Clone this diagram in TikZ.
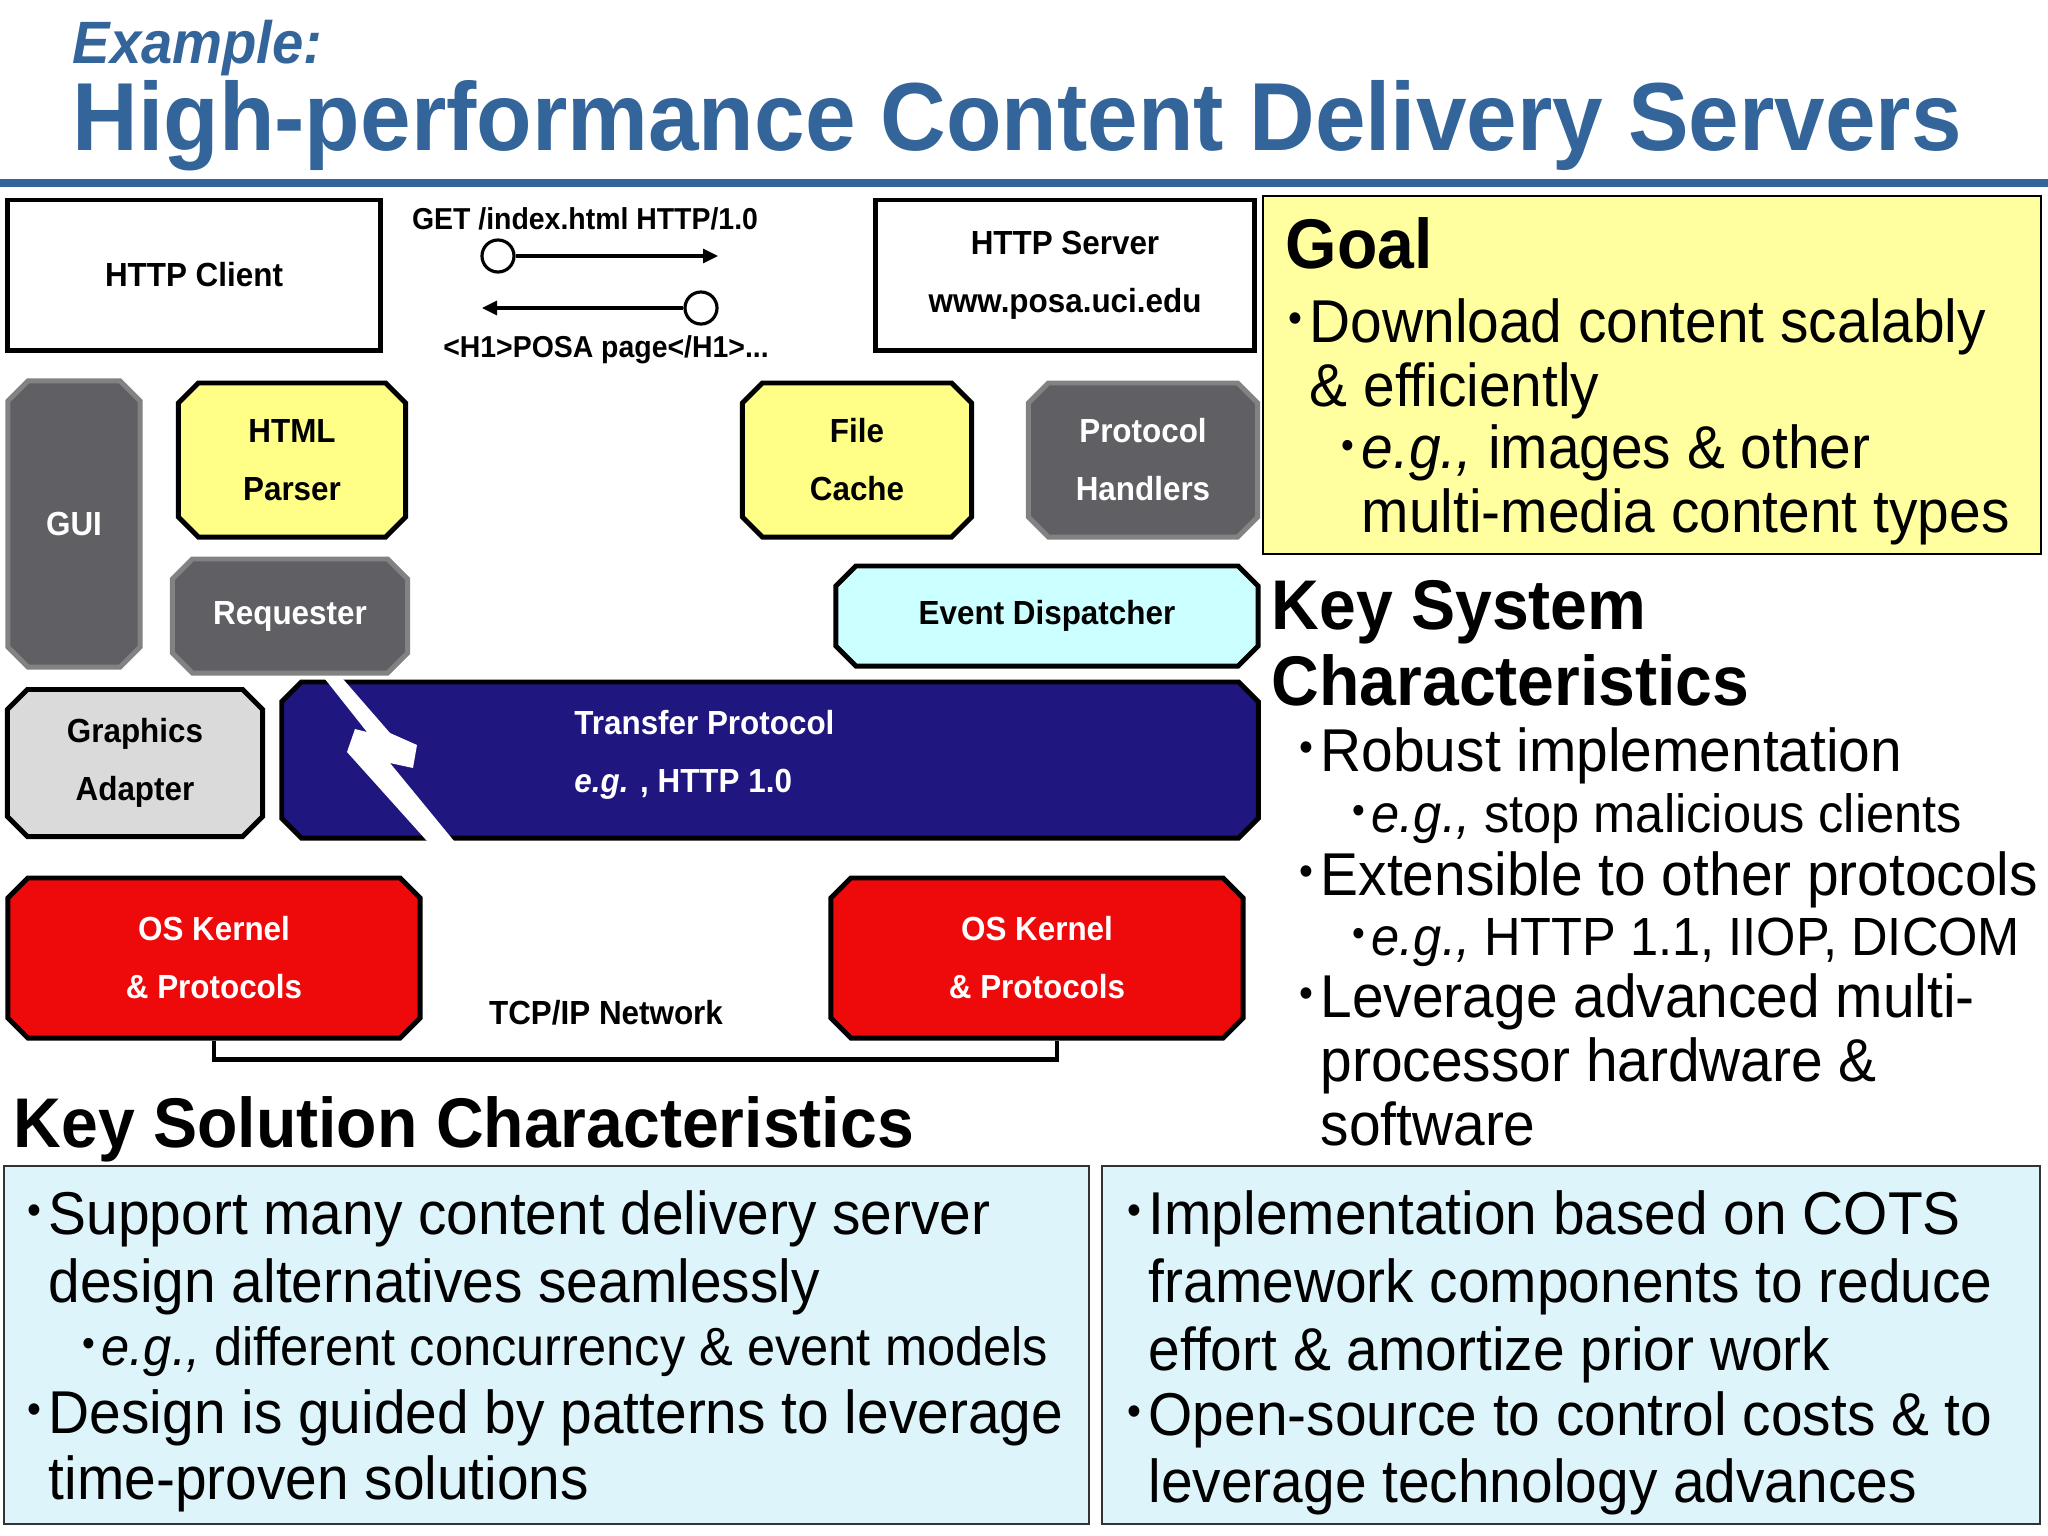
\documentclass[tikz,border=0pt]{standalone}
\usepackage{fontspec}
\setmainfont[FakeStretch=0.94]{Liberation Sans}
\usetikzlibrary{shapes.misc,arrows.meta}

\definecolor{titleblue}{RGB}{52,101,154}
\definecolor{parseryellow}{RGB}{255,255,136}
\definecolor{goalyellow}{RGB}{255,255,160}
\definecolor{compgray}{RGB}{96,95,99}
\definecolor{compedge}{RGB}{130,130,130}
\definecolor{dispcyan}{RGB}{204,255,255}
\definecolor{adaptgray}{RGB}{218,218,218}
\definecolor{protonavy}{RGB}{32,22,128}
\definecolor{kernelred}{RGB}{238,10,10}
\definecolor{solcyan}{RGB}{221,244,251}

\newcommand{\dotitem}{\makebox[0pt][r]{\raisebox{0.15em}{\fontsize{12}{12}\selectfont •}\hspace{0.12em}}}
\newcommand{\subdot}{\makebox[0pt][r]{\raisebox{0.15em}{\fontsize{11}{11}\selectfont •}\hspace{0.12em}}}

\tikzset{
  boxtext/.style={font=\fontsize{9.5}{16.5}\selectfont\bfseries, align=center},
  plainbox/.style={rectangle, draw=black, line width=1.4pt, fill=white, boxtext},
  chambox/.style={chamfered rectangle, chamfered rectangle xsep=0.12cm,
    chamfered rectangle ysep=0.08cm, line width=1.4pt, boxtext},
  yellowbox/.style={chambox, draw=black, fill=parseryellow},
  graybox/.style={chambox, draw=compedge, fill=compgray, text=white},
  wire/.style={line width=1.4pt},
  msg/.style={line width=0.9pt, -{Triangle[length=0.15cm,width=0.14cm]}},
  headtext/.style={anchor=base west, inner sep=0pt, font=\fontsize{20}{24}\selectfont\bfseries},
  bodyline/.style={anchor=base west, inner sep=0pt, font=\fontsize{17.2}{20}\selectfont},
  subline/.style={anchor=base west, inner sep=0pt, font=\fontsize{15.3}{18}\selectfont}
}

\begin{document}
\begin{tikzpicture}[x=0.01cm, y=-0.01cm]
  \useasboundingbox (0,0) rectangle (2048,1536);

  % Title
  \node[anchor=base west, inner sep=0pt, text=titleblue,
    font=\fontsize{17}{20}\selectfont\bfseries\itshape] (example) at (72,63) {Example:};
  \node[anchor=base west, inner sep=0pt, text=titleblue,
    font=\fontsize{27.5}{32}\selectfont\bfseries] (title) at (72,150) {High-performance Content Delivery Servers};
  \fill[titleblue] (0,179) rectangle (2048,187);

  % HTTP client and server
  \node[plainbox, minimum width=3.73cm, minimum height=1.50cm] (client) at (194,275) {HTTP Client};
  \node[plainbox, minimum width=3.78cm, minimum height=1.50cm] (server) at (1065,275) {HTTP Server\\www.posa.uci.edu};

  % Request and reply
  \node[boxtext, font=\fontsize{8.6}{10}\selectfont\bfseries] (request) at (585,219) {GET /index.html HTTP/1.0};
  \node[circle, draw, line width=0.9pt, fill=white, minimum size=0.32cm, inner sep=0pt] (reqdot) at (498,256) {};
  \coordinate (reqend) at (718,256);
  \draw[msg] (reqdot) -- (reqend);
  \node[circle, draw, line width=0.9pt, fill=white, minimum size=0.32cm, inner sep=0pt] (repdot) at (701,308) {};
  \coordinate (repend) at (482,308);
  \draw[msg] (repdot) -- (repend);
  \node[boxtext, font=\fontsize{8.6}{10}\selectfont\bfseries] (reply) at (606,350) {<H1>POSA page</H1>...};

  % Client side components
  \node[graybox, minimum width=1.32cm, minimum height=2.86cm] (gui) at (74,524) {GUI};
  \node[yellowbox, minimum width=2.27cm, minimum height=1.54cm] (parser) at (292,460) {HTML\\Parser};
  \node[graybox, minimum width=2.35cm, minimum height=1.14cm] (requester) at (290,616) {Requester};
  \node[chambox, draw=black, fill=adaptgray, minimum width=2.55cm, minimum height=1.47cm] (adapter) at (135,763) {Graphics\\Adapter};

  % Server side components
  \node[yellowbox, minimum width=2.29cm, minimum height=1.54cm] (cache) at (857,460) {File\\Cache};
  \node[graybox, minimum width=2.29cm, minimum height=1.54cm] (handlers) at (1143,460) {Protocol\\Handlers};
  \node[chambox, draw=black, fill=dispcyan, minimum width=4.22cm, minimum height=1.00cm] (dispatcher) at (1047,616) {Event Dispatcher};

  % Transfer protocol with bolt
  \node[chambox, draw=black, fill=protonavy, minimum width=9.76cm, minimum height=1.56cm] (protocol) at (770,760) {};
  \fill[white] (325,679) -- (343,679) -- (390,733) -- (417,745) -- (413,768) -- (390,763)
    -- (454,841) -- (427,841) -- (347,752) -- (355,729) -- (367,732) -- cycle;
  \node[boxtext, text=white, align=left, anchor=west] (protocoltext) at (562,755) {Transfer Protocol\\\textit{e.g.} , HTTP 1.0};

  % OS kernels and network
  \node[chambox, draw=black, fill=kernelred, text=white, minimum width=4.12cm, minimum height=1.60cm] (kernelL) at (214,958) {OS Kernel\\\& Protocols};
  \node[chambox, draw=black, fill=kernelred, text=white, minimum width=4.12cm, minimum height=1.60cm] (kernelR) at (1037,958) {OS Kernel\\\& Protocols};
  \draw[wire] (kernelL.south) -- ++(0,19) -| ([xshift=0.2cm]kernelR.south);
  \node[boxtext] (network) at (606,1013) {TCP/IP Network};

  % Goal
  \draw[fill=goalyellow, line width=0.7pt] (1263,196) rectangle (2041,554);
  \node[headtext] (goal) at (1285,268) {Goal};
  \foreach \y/\t [count=\i] in {342/{\dotitem Download content scalably}, 406/{\& efficiently}}
    \node[bodyline] (goal-\i) at (1309,\y) {\t};
  \foreach \y/\t [count=\i] in {468/{\subdot\textit{e.g.,} images \& other}, 532/{multi-media content types}}
    \node[bodyline] (goalsub-\i) at (1361,\y) {\t};

  % Key system characteristics
  \node[headtext] (system) at (1271,629) {Key System};
  \node[headtext] (system2) at (1271,705) {Characteristics};
  \foreach \y/\t [count=\i] in {771/{\dotitem Robust implementation}, 895/{\dotitem Extensible to other protocols},
      1017/{\dotitem Leverage advanced multi-}, 1081/{processor hardware \&}, 1145/{software}}
    \node[bodyline] (sys-\i) at (1320,\y) {\t};
  \foreach \y/\t [count=\i] in {832/{\subdot\textit{e.g.,} stop malicious clients}, 955/{\subdot\textit{e.g.,} HTTP 1.1, IIOP, DICOM}}
    \node[subline] (syssub-\i) at (1371,\y) {\t};

  % Key solution characteristics
  \node[headtext] (solution) at (13,1147) {Key Solution Characteristics};
  \draw[fill=solcyan, draw=black!80, line width=0.8pt] (4,1166) rectangle (1089,1524);
  \draw[fill=solcyan, draw=black!80, line width=0.8pt] (1102,1166) rectangle (2040,1524);
  \foreach \y/\t [count=\i] in {1234/{\dotitem Support many content delivery server}, 1302/{design alternatives seamlessly},
      1433/{\dotitem Design is guided by patterns to leverage}, 1499/{time-proven solutions}}
    \node[bodyline] (solL-\i) at (48,\y) {\t};
  \node[subline] (solLsub) at (101,1365) {\subdot\textit{e.g.,} different concurrency \& event models};
  \foreach \y/\t [count=\i] in {1234/{\dotitem Implementation based on COTS}, 1302/{framework components to reduce},
      1370/{effort \& amortize prior work}, 1435/{\dotitem Open-source to control costs \& to}, 1502/{leverage technology advances}}
    \node[bodyline] (solR-\i) at (1148,\y) {\t};

\end{tikzpicture}
\end{document}
